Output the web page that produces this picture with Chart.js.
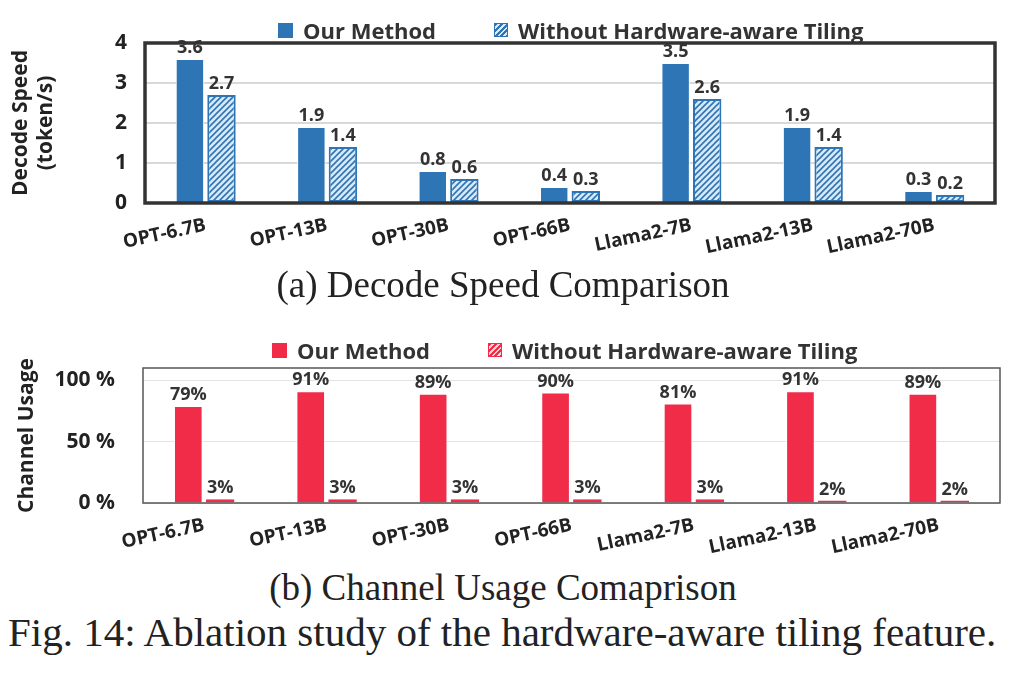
<!DOCTYPE html>
<html>
<head>
<meta charset="utf-8">
<script src="https://cdn.jsdelivr.net/npm/chart.js@4"></script>
<style>
    body { margin: 0; width: 1031px; height: 678px; background: #fff; position: relative; overflow: hidden; }
    .wrap { position: absolute; left: 0; width: 1031px; }
    .legend { position: absolute; display: flex; align-items: center; font: bold 22px "Open Sans", sans-serif; color: #333; white-space: nowrap; }
    .legend .box { width: 15px; height: 15px; display: inline-block; margin-right: 10px; }
    .legend .item { display: flex; align-items: center; margin-right: 58px; }
    .cap { position: absolute; left: 0; width: 1006px; text-align: center; font-family: "Liberation Serif", serif; color: #222; }
</style>
</head>
<body>
<div class="wrap" style="top:0;height:270px"><canvas id="speed-chart"></canvas></div>
<div class="wrap" style="top:320px;height:240px"><canvas id="usage-chart"></canvas></div>

<div class="legend" style="left:278px;top:15px">
    <span class="item"><span class="box" style="background:#2E75B6"></span>Our Method</span>
    <span class="item"><span class="box" style="border:1.5px solid #2E75B6;width:12px;height:12px;background:repeating-linear-gradient(135deg,#2E75B6 0 2px,#dce9f5 2px 4px)"></span>Without Hardware-aware Tiling</span>
</div>
<div class="legend" style="left:272px;top:335px">
    <span class="item"><span class="box" style="background:#F02C49"></span>Our Method</span>
    <span class="item"><span class="box" style="border:1.5px solid #F02C49;width:12px;height:12px;background:repeating-linear-gradient(135deg,#F02C49 0 2px,#fbd3d9 2px 4px)"></span>Without Hardware-aware Tiling</span>
</div>

<div class="cap" style="top:263px;font-size:37px">(a) Decode Speed Comparison</div>
<div class="cap" style="top:566px;font-size:37px">(b) Channel Usage Comaprison</div>
<div class="cap" style="top:608px;font-size:41px;left:8px;width:1010px;text-align:left">Fig. 14: Ablation study of the hardware-aware tiling feature.</div>

<script>
    const models = ['OPT-6.7B', 'OPT-13B', 'OPT-30B', 'OPT-66B', 'Llama2-7B', 'Llama2-13B', 'Llama2-70B'];
    const speedOurs = [3.6, 1.9, 0.8, 0.4, 3.5, 1.9, 0.3];
    const speedNoTiling = [2.7, 1.4, 0.6, 0.3, 2.6, 1.4, 0.2];
    const usageOurs = [79, 91, 89, 90, 81, 91, 89];
    const usageNoTiling = [3, 3, 3, 3, 3, 2, 2];
    const speedTicks = [0, 1, 2, 3, 4];
    const usageTicks = [0, 50, 100];

    const BLUE = '#2E75B6';
    const RED = '#F02C49';
    const FONT = '"Open Sans", sans-serif';

    function hatch(color, bg) {
        const c = document.createElement('canvas');
        c.width = 6; c.height = 6;
        const g = c.getContext('2d');
        g.fillStyle = bg;
        g.fillRect(0, 0, 6, 6);
        g.strokeStyle = color;
        g.lineWidth = 1.6;
        g.beginPath();
        g.moveTo(0, 6); g.lineTo(6, 0);
        g.moveTo(-3, 3); g.lineTo(3, -3);
        g.moveTo(3, 9); g.lineTo(9, 3);
        g.stroke();
        return g.createPattern(c, 'repeat');
    }

    const valueLabels = {
        id: 'valueLabels',
        afterDatasetsDraw(chart, args, opts) {
            const ctx = chart.ctx;
            ctx.save();
            ctx.font = 'bold 18px ' + FONT;
            ctx.fillStyle = '#333';
            ctx.textAlign = 'center';
            ctx.textBaseline = 'bottom';
            chart.data.datasets.forEach((ds, i) => {
                chart.getDatasetMeta(i).data.forEach((bar, j) => {
                    ctx.fillText(opts.format(ds.data[j]), bar.x, bar.y - 2);
                });
            });
            ctx.restore();
        }
    };

    const frame = {
        id: 'frame',
        afterDraw(chart, args, opts) {
            const a = chart.chartArea;
            const ctx = chart.ctx;
            ctx.save();
            ctx.strokeStyle = opts.color;
            ctx.lineWidth = opts.width;
            ctx.strokeRect(a.left, a.top, a.right - a.left, a.bottom - a.top);
            ctx.restore();
        }
    };

    function makeChart(id, ours, noTiling, color, bg, yOpts, pad, yWidth, format, frameOpts) {
        return new Chart(document.getElementById(id), {
            type: 'bar',
            data: {
                labels: models,
                datasets: [
                    { data: ours, backgroundColor: color, borderColor: '#ffffff', borderWidth: 1 },
                    { data: noTiling, backgroundColor: hatch(color, bg), borderColor: color, borderWidth: 2, borderSkipped: false }
                ]
            },
            options: {
                responsive: true,
                maintainAspectRatio: false,
                animation: false,
                categoryPercentage: 0.52,
                barPercentage: 0.9,
                layout: { padding: pad },
                plugins: {
                    legend: { display: false },
                    tooltip: { enabled: false },
                    valueLabels: { format: format },
                    frame: frameOpts
                },
                scales: {
                    x: {
                        grid: { display: false },
                        border: { display: false },
                        ticks: { minRotation: 12, maxRotation: 12, color: '#222', font: { family: FONT, size: 19, weight: 'bold' } },
                        afterFit: s => { s.height = 50; }
                    },
                    y: Object.assign({
                        beginAtZero: true,
                        border: { display: false },
                        afterFit: s => { s.width = yWidth; }
                    }, yOpts)
                }
            },
            plugins: [valueLabels, frame]
        });
    }

    makeChart('speed-chart', speedOurs, speedNoTiling, BLUE, '#dce9f5', {
        min: 0, max: 4,
        afterBuildTicks: s => { s.ticks = speedTicks.map(v => ({ value: v })); },
        grid: { color: '#d9d9d9', lineWidth: 2, drawTicks: false },
        ticks: { padding: 18, color: '#222', font: { family: FONT, size: 21, weight: 'bold' } },
        title: { display: true, text: ['Decode Speed', '(token/s)'], color: '#222', font: { family: FONT, size: 21, weight: 'bold' }, padding: 0 }
    }, { top: 43, bottom: 17, left: 8, right: 36 }, 137, v => v.toFixed(1), { color: '#333', width: 3.5 });

    makeChart('usage-chart', usageOurs, usageNoTiling, RED, '#fbd3d9', {
        min: 0, max: 110,
        afterBuildTicks: s => { s.ticks = usageTicks.map(v => ({ value: v })); },
        grid: { color: '#e3e3e3', lineWidth: 1, drawTicks: false },
        ticks: { padding: 28, color: '#222', font: { family: FONT, size: 21, weight: 'bold' }, callback: v => v + ' %' },
        title: { display: true, text: 'Channel Usage', color: '#222', font: { family: FONT, size: 21, weight: 'bold' }, padding: 0 }
    }, { top: 48, bottom: 7, left: 14, right: 31 }, 129, v => v + '%', { color: '#555', width: 1.5 });
</script>
</body>
</html>
